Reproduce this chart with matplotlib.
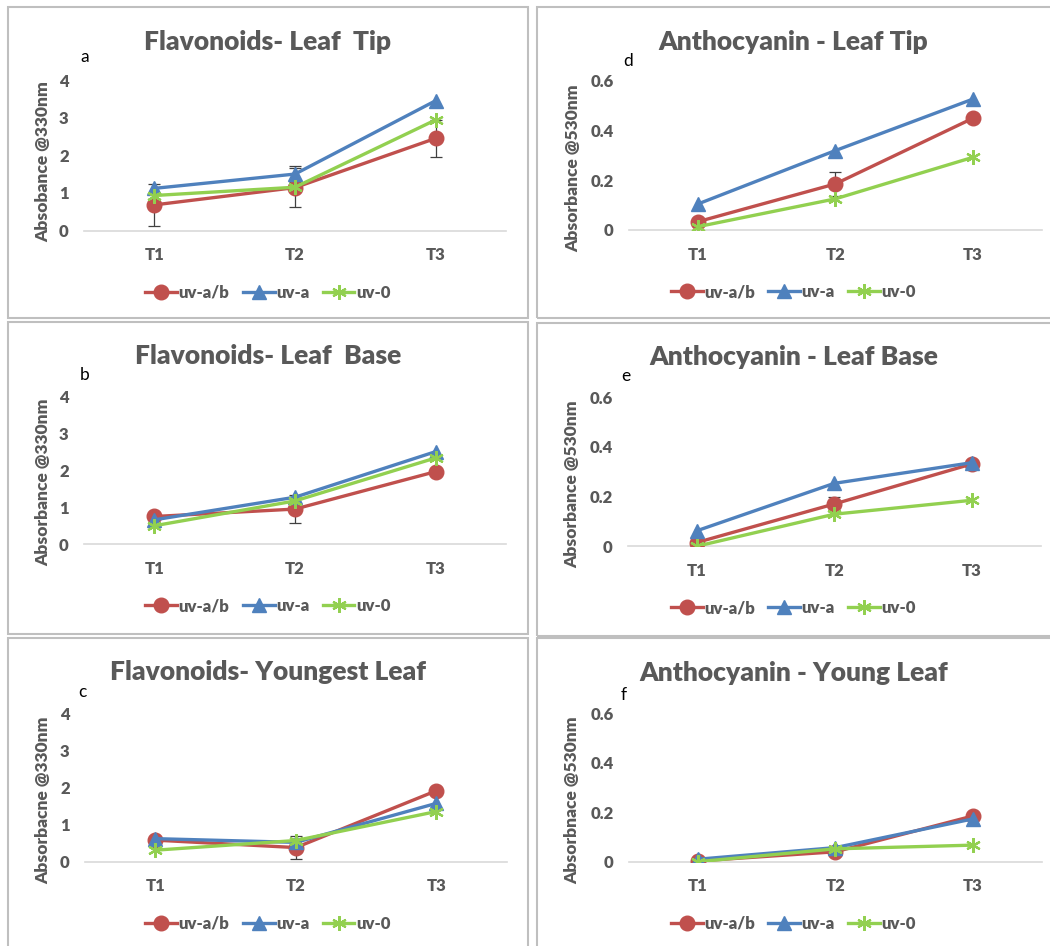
import matplotlib
matplotlib.use("Agg")
import matplotlib.pyplot as plt
from matplotlib.patches import Rectangle

plt.rcParams['font.family'] = ['Lato', 'DejaVu Sans']

times = ['T1', 'T2', 'T3']
series = ['uv-a/b', 'uv-a', 'uv-0']

# Flavonoids (Absorbance @330nm)
flav_tip_ab = [0.68, 1.14, 2.45]
flav_tip_a = [1.12, 1.50, 3.45]
flav_tip_0 = [0.93, 1.15, 2.94]
flav_tip_err_ab = [0.55, 0.52, 0.50]
flav_tip_err_a = [0.0, 0.22, 0.0]

flav_base_ab = [0.75, 0.95, 1.96]
flav_base_a = [0.66, 1.27, 2.50]
flav_base_0 = [0.50, 1.17, 2.33]
flav_base_err_ab = [0.0, 0.37, 0.0]
flav_base_err_a = [0.0, 0.0, 0.0]

flav_young_ab = [0.58, 0.38, 1.91]
flav_young_a = [0.62, 0.52, 1.57]
flav_young_0 = [0.31, 0.57, 1.35]
flav_young_err_ab = [0.0, 0.31, 0.0]
flav_young_err_a = [0.0, 0.0, 0.0]

# Anthocyanin (Absorbance @530nm)
anth_tip_ab = [0.033, 0.185, 0.449]
anth_tip_a = [0.104, 0.319, 0.526]
anth_tip_0 = [0.013, 0.125, 0.292]
anth_tip_err_ab = [0.0, 0.048, 0.0]
anth_tip_err_a = [0.0, 0.0, 0.0]

anth_base_ab = [0.015, 0.170, 0.331]
anth_base_a = [0.062, 0.253, 0.336]
anth_base_0 = [0.0, 0.129, 0.185]
anth_base_err_ab = [0.0, 0.030, 0.0]
anth_base_err_a = [0.0, 0.0, 0.0]

anth_young_ab = [0.003, 0.040, 0.185]
anth_young_a = [0.010, 0.057, 0.173]
anth_young_0 = [0.0, 0.052, 0.067]
anth_young_err_ab = [0.0, 0.0, 0.0]
anth_young_err_a = [0.0, 0.0, 0.0]

RED, BLUE, GREEN = '#C0504D', '#4F81BD', '#92D050'
GREY = '#595959'

W, H = 1050, 946
fig = plt.figure(figsize=(W / 100, H / 100), dpi=100)


def fx(px):
    return px / W


def fy(py):
    return 1 - py / H


def err_bars(ax, vals, errs):
    idx = [i for i, e in enumerate(errs) if e > 0]
    if not idx:
        return
    ax.errorbar(idx, [vals[i] for i in idx], yerr=[errs[i] for i in idx], fmt='none',
                ecolor='#404040', elinewidth=0.9, capsize=4, capthick=0.9, zorder=1)


panels = [
    # title, letter, ylabel, data, ymax, yticks, box, axes(x0,x1,ytop,ybot), title_y, letter_xy, ylab_xy
    ('Flavonoids- Leaf  Tip', 'a', 'Absobance @330nm',
     (flav_tip_ab, flav_tip_a, flav_tip_0, flav_tip_err_ab, flav_tip_err_a), 4, [0, 1, 2, 3, 4],
     (8, 7, 528, 318), (84, 506, 80, 230.5), 42, (85, 57), (43, 162)),
    ('Flavonoids- Leaf  Base', 'b', 'Absorbance @330nm',
     (flav_base_ab, flav_base_a, flav_base_0, flav_base_err_ab, flav_base_err_a), 4, [0, 1, 2, 3, 4],
     (8, 322, 528, 634), (84, 506, 396, 544.3), 356, (85, 375), (43, 482)),
    ('Flavonoids- Youngest Leaf', 'c', 'Absorbacne @330nm',
     (flav_young_ab, flav_young_a, flav_young_0, flav_young_err_ab, flav_young_err_a), 4, [0, 1, 2, 3, 4],
     (8, 638, 528, 960), (85, 506.7, 713, 861.7), 672, (82, 692), (43, 800)),
    ('Anthocyanin - Leaf Tip', 'd', 'Absorbance @530nm',
     (anth_tip_ab, anth_tip_a, anth_tip_0, anth_tip_err_ab, anth_tip_err_a), 0.6, [0, 0.2, 0.4, 0.6],
     (537, 7, 1060, 318), (628.7, 1041.7, 80.7, 230), 42, (628, 61), (573, 168)),
    ('Anthocyanin - Leaf Base', 'e', 'Absorbance @530nm',
     (anth_base_ab, anth_base_a, anth_base_0, anth_base_err_ab, anth_base_err_a), 0.6, [0, 0.2, 0.4, 0.6],
     (537, 323, 1060, 636), (627.7, 1040.7, 397, 546.3), 357, (626, 376), (572, 484)),
    ('Anthocyanin - Young Leaf', 'f', 'Absorbnace @530nm',
     (anth_young_ab, anth_young_a, anth_young_0, anth_young_err_ab, anth_young_err_a), 0.6, [0, 0.2, 0.4, 0.6],
     (537, 638, 1060, 960), (629, 1041.7, 713.3, 861.7), 673, (624, 695), (572, 800)),
]

for title, letter, ylab, data, ymax, yticks, box, axp, ty, lxy, yl in panels:
    bx0, by0, bx1, by1 = box
    fig.patches.append(Rectangle((fx(bx0), fy(by1)), fx(bx1 - bx0), (by1 - by0) / H,
                                 transform=fig.transFigure, fill=False,
                                 edgecolor='#bfbfbf', linewidth=1.5, zorder=0))
    x0, x1, yt, yb = axp
    ax = fig.add_axes([fx(x0), fy(yb), fx(x1 - x0), (yb - yt) / H])
    ab, a, z, err_ab, err_a = data
    xs = list(range(len(times)))
    err_bars(ax, ab, err_ab)
    err_bars(ax, a, err_a)
    l1, = ax.plot(xs, ab, color=RED, lw=2.4, marker='o', ms=10.5, zorder=3, label=series[0])
    l2, = ax.plot(xs, a, color=BLUE, lw=2.4, marker='^', ms=10.5, zorder=4, label=series[1])
    l3, = ax.plot(xs, z, color=GREEN, lw=2.4, marker=(6, 2, 0), ms=10.5, mew=1.6,
                  zorder=5, label=series[2])
    ax.set_xlim(-0.5, 2.5)
    ax.set_ylim(0, ymax)
    ax.set_yticks(yticks)
    ax.set_yticklabels([('%g' % v) for v in yticks])
    ax.set_xticks(xs)
    ax.set_xticklabels(times)
    for s in ['top', 'right', 'left']:
        ax.spines[s].set_visible(False)
    ax.spines['bottom'].set_color('#d9d9d9')
    ax.spines['bottom'].set_linewidth(1.2)
    ax.tick_params(length=0, colors=GREY, labelsize=12)
    ax.tick_params(axis='y', pad=11)
    ax.tick_params(axis='x', pad=12)
    for lab in ax.get_xticklabels() + ax.get_yticklabels():
        lab.set_fontweight('heavy')
    ax.patch.set_alpha(0)
    cx = (bx0 + 528) / 2 if bx0 < 530 else (bx0 + 1050) / 2
    fig.text(fx(cx), fy(ty), title, ha='center', va='center', fontsize=19,
             fontweight='heavy', color=GREY)
    fig.text(fx(lxy[0]), fy(lxy[1]), letter, ha='center', va='center', fontsize=12.5, color='black')
    fig.text(fx(yl[0]), fy(yl[1]), ylab, ha='center', va='center', rotation=90,
             fontsize=12.5, fontweight='heavy', color=GREY)
    leg_y = yb + 62
    fig.legend(handles=[l1, l2, l3], loc='center', bbox_to_anchor=(fx(cx), fy(leg_y)),
               ncol=3, frameon=False, handlelength=1.9, columnspacing=0.8, handletextpad=0.1,
               prop={'weight': 'heavy', 'size': 12}, labelcolor=GREY)

fig.savefig('out.png', dpi=100)
